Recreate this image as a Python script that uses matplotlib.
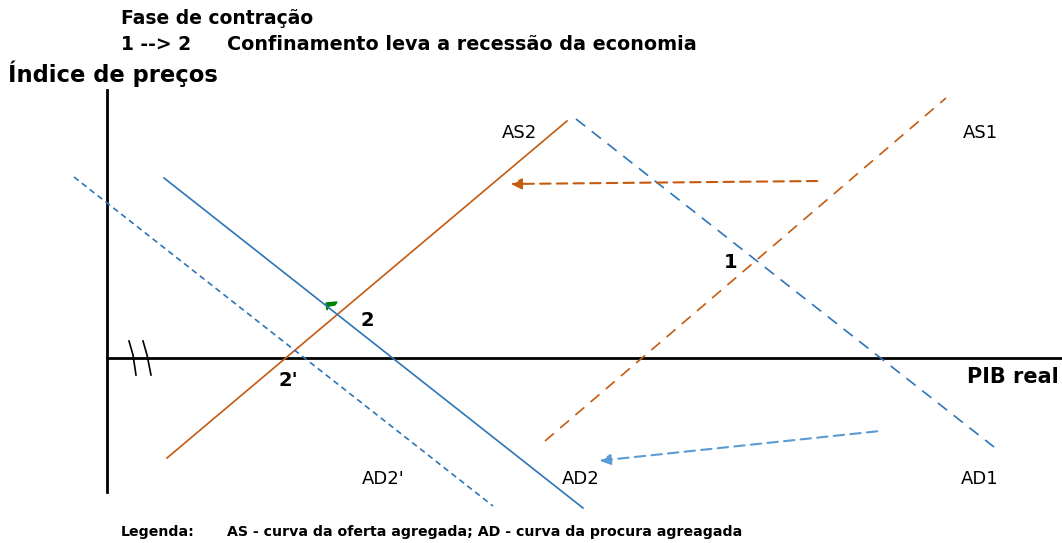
import matplotlib
matplotlib.use("Agg")
import matplotlib.pyplot as plt

plt.rcParams['font.family'] = ['DejaVu Sans']

# diagram drawn in pixel-like coordinates (x right, y down)
as2_x = [167, 567]
as2_y = [458, 121]
as1_x = [545, 946]
as1_y = [441, 98]
ad2_x = [164, 583]
ad2_y = [178, 508]
ad1_x = [576, 994]
ad1_y = [119, 447]
ad2p_x = [74, 493]
ad2p_y = [177, 506]

# shift arrows (start -> end)
as_shift = [(820, 181), (508, 184)]
ad_shift = [(880, 431), (597, 461)]

orange = "#c55a11"
blue = "#2e75b6"

fig = plt.figure(figsize=(10.62, 5.43), dpi=100)
ax = fig.add_axes([0, 0, 1, 1])
ax.set_xlim(0, 1062)
ax.set_ylim(543, 0)
ax.axis("off")

# axes of the diagram
ax.plot([107, 107], [90, 492], color="black", lw=2)
ax.plot([107, 1062], [358, 358], color="black", lw=2)
# break marks
ax.plot([129, 133, 136], [341, 355, 375], color="black", lw=1.2)
ax.plot([143, 147, 151], [341, 355, 375], color="black", lw=1.2)

# curves
ax.plot(as2_x, as2_y, color=orange, lw=1.2)
ax.plot(as1_x, as1_y, color=orange, lw=1.2, dashes=(7, 5))
ax.plot(ad2_x, ad2_y, color=blue, lw=1.2)
ax.plot(ad1_x, ad1_y, color=blue, lw=1.2, dashes=(7, 5))
ax.plot(ad2p_x, ad2p_y, color=blue, lw=1.2, dashes=(3.5, 2.5))

# arrows
ax.annotate("", xy=as_shift[1], xytext=as_shift[0],
            arrowprops=dict(arrowstyle="-|>", color=orange, lw=1.5,
                            linestyle=(0, (5, 3)), mutation_scale=16))
ax.annotate("", xy=ad_shift[1], xytext=ad_shift[0],
            arrowprops=dict(arrowstyle="-|>", color="#5b9bd5", lw=1.5,
                            linestyle=(0, (5, 3)), mutation_scale=16))

# little green marker
ax.fill([326, 337, 335, 329, 327], [303, 302, 305, 306, 310], color="green")

# labels
ax.text(121, 18, "Fase de contração", fontsize=13.5, fontweight="bold", va="center")
ax.text(121, 44, "1 --> 2", fontsize=13.5, fontweight="bold", va="center")
ax.text(227, 44, "Confinamento leva a recessão da economia", fontsize=13.8,
        fontweight="bold", va="center")
ax.text(8, 74, "Índice de preços", fontsize=16.3, fontweight="bold", va="center")
ax.text(1059, 377, "PIB real", fontsize=15, fontweight="bold", va="center", ha="right")

ax.text(519, 133, "AS2", fontsize=13, ha="center", va="center")
ax.text(980, 133, "AS1", fontsize=13, ha="center", va="center")
ax.text(383, 479, "AD2'", fontsize=13, ha="center", va="center")
ax.text(581, 479, "AD2", fontsize=13, ha="center", va="center")
ax.text(980, 479, "AD1", fontsize=13, ha="center", va="center")

ax.text(731, 263, "1", fontsize=14, fontweight="bold", ha="center", va="center")
ax.text(367, 320, "2", fontsize=14, fontweight="bold", ha="center", va="center")
ax.text(288, 380, "2'", fontsize=14, fontweight="bold", ha="center", va="center")

ax.text(121, 532, "Legenda:", fontsize=10.2, fontweight="bold", va="center")
ax.text(227, 532, "AS - curva da oferta agregada; AD - curva da procura agreagada",
        fontsize=10.2, fontweight="bold", va="center")

fig.savefig("out.png", dpi=100)
